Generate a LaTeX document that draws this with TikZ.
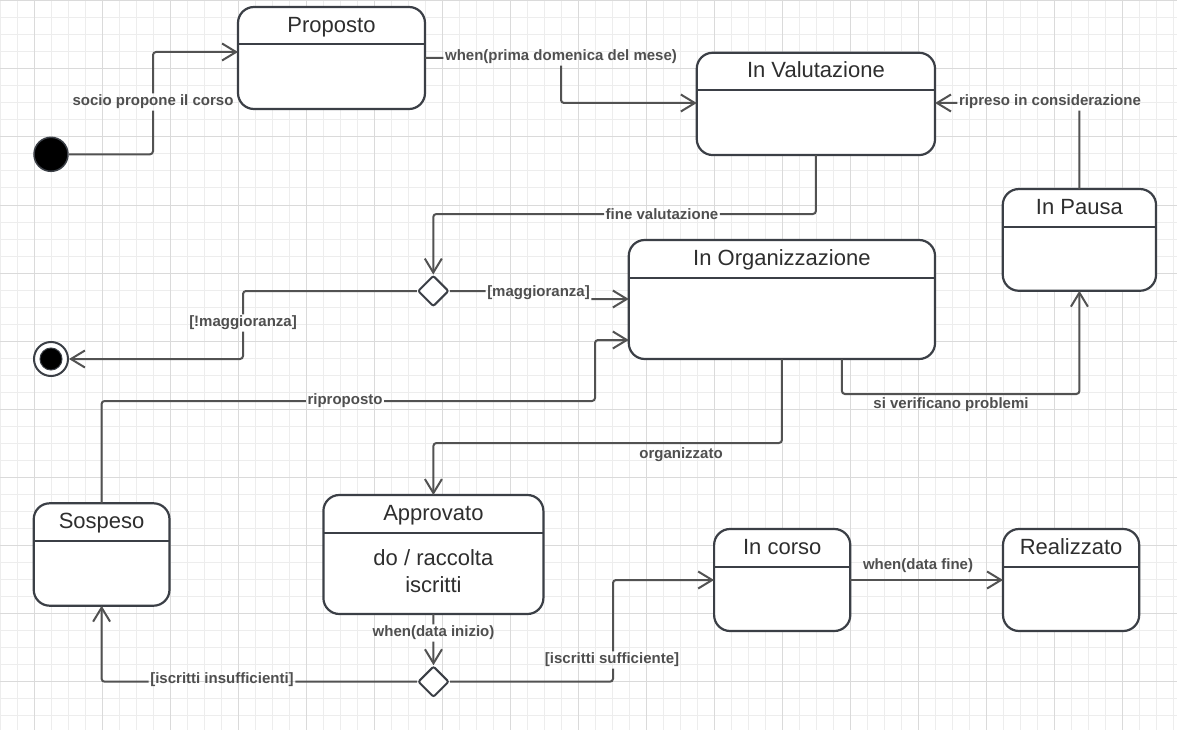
\documentclass[tikz,border=0pt]{standalone}
\usepackage{fontspec}
\setmainfont{Liberation Sans}
\usetikzlibrary{arrows.meta,shapes.geometric}
\definecolor{bord}{HTML}{3B3F46}
\definecolor{conncol}{HTML}{525252}
\definecolor{lblcol}{HTML}{4F4F4F}
\definecolor{ttlcol}{HTML}{2E2E2E}
\definecolor{gridminor}{HTML}{EDEDED}
\definecolor{gridmajor}{HTML}{DADADA}
\newcommand\lblhole[1]{\clip (-5,-5) rectangle (1182,735) (#1.north east) rectangle (#1.south west);}
\begin{document}
\begin{tikzpicture}[x=1pt,y=-1pt,
  statebox/.style={draw=bord, line width=2.2pt, fill=white, rounded corners=16pt, inner sep=0pt, outer sep=0pt},
  hdr/.style={draw=bord, line width=2pt},
  ttl/.style={font=\fontsize{22}{27}\selectfont, text=ttlcol, text height=16pt, text depth=4.6pt, inner sep=0pt},
  bodytxt/.style={font=\fontsize{22}{27}\selectfont, text=ttlcol, inner sep=0pt, align=center},
  lbl/.style={font=\fontsize{15}{17}\selectfont\bfseries, text=lblcol, inner sep=1.5pt},
  tr/.style={draw=conncol, line width=2pt, rounded corners=3pt, -{Straight Barb[length=14pt,width=17pt]}},
  dec/.style={diamond, draw=bord, line width=2pt, fill=white, minimum width=31pt, minimum height=31pt, inner sep=0pt, rounded corners=2pt},
  initst/.style={circle, fill=black, draw=bord, line width=1.5pt, minimum size=34pt, inner sep=0pt},
  finout/.style={circle, fill=white, draw=bord, line width=2pt, minimum size=34pt, inner sep=0pt},
  finin/.style={circle, fill=black, draw=bord, line width=1pt, minimum size=22pt, inner sep=0pt}
]
\useasboundingbox (0,0) rectangle (1177,730);
\fill[white] (0,0) rectangle (1177,730);
% grid
\foreach \gx in {0,17,...,1177} \draw[gridminor, line width=1pt] (\gx,0) -- (\gx,730);
\foreach \gy in {1,18,...,730} \draw[gridminor, line width=1pt] (0,\gy) -- (1177,\gy);
\foreach \gx in {34,102,...,1177} \draw[gridmajor, line width=1pt] (\gx,0) -- (\gx,730);
\foreach \gy in {1,69,...,730} \draw[gridmajor, line width=1pt] (0,\gy) -- (1177,\gy);

% states
\node[statebox, minimum width=187pt, minimum height=102pt] (prop) at (331.5,58) {};
\node[statebox, minimum width=238.3pt, minimum height=102.3pt] (val) at (815.9,103.9) {};
\node[statebox, minimum width=153.3pt, minimum height=101.7pt] (pausa) at (1079.4,239.9) {};
\node[statebox, minimum width=306.3pt, minimum height=119pt] (org) at (781.9,299.5) {};
\node[statebox, minimum width=135.8pt, minimum height=102.4pt] (sosp) at (101.6,554.5) {};
\node[statebox, minimum width=220pt, minimum height=119pt] (appr) at (433.4,554.5) {};
\node[statebox, minimum width=136.2pt, minimum height=102pt] (corso) at (782.2,580) {};
\node[statebox, minimum width=136.2pt, minimum height=102pt] (real) at (1071.1,580) {};

\foreach \s in {prop,val,pausa,org,sosp,appr,corso,real}
  \draw[hdr] ([yshift=-37.5pt]\s.north west) -- ([yshift=-37.5pt]\s.north east);

\node[ttl] (propT) at ([yshift=-19.5pt]prop.north) {Proposto};
\node[ttl] (valT) at ([yshift=-19.5pt]val.north) {In Valutazione};
\node[ttl] (pausaT) at ([yshift=-19.5pt]pausa.north) {In Pausa};
\node[ttl] (orgT) at ([yshift=-19.5pt]org.north) {In Organizzazione};
\node[ttl] (sospT) at ([yshift=-19.5pt]sosp.north) {Sospeso};
\node[ttl] (apprT) at ([yshift=-19.5pt]appr.north) {Approvato};
\node[ttl] (corsoT) at ([yshift=-19.5pt]corso.north) {In corso};
\node[ttl] (realT) at ([yshift=-19.5pt]real.north) {Realizzato};
\node[bodytxt] (apprB) at (433.4,571) {do / raccolta\\iscritti};

% pseudo states
\node[initst] (init) at (51,154.3) {};
\node[finout] (fin) at (51,359) {};
\node[finin] (finI) at (51,359) {};
\node[dec] (d1) at (433.3,291) {};
\node[dec] (d2) at (433.5,681.7) {};

% labels
\node[lbl] (lSocio) at (153,102) {socio propone il corso};
\node[lbl] (lPrima) at (561,57) {when(prima domenica del mese)};
\node[lbl] (lFine) at (662,214) {fine valutazione};
\node[lbl] (lMagg) at (538.5,293) {[maggioranza]};
\node[lbl] (lNotMagg) at (243,323) {[!maggioranza]};
\node[lbl] (lOrg) at (681,455) {organizzato};
\node[lbl] (lSiVer) at (951,405) {si verificano problemi};
\node[lbl] (lRipreso) at (1050,102) {ripreso in considerazione};
\node[lbl] (lRipro) at (345,401) {riproposto};
\node[lbl] (lWhenIn) at (433.5,633) {when(data inizio)};
\node[lbl] (lInsuf) at (222,680) {[iscritti insufficienti]};
\node[lbl] (lSuff) at (612,660) {[iscritti sufficiente]};
\node[lbl] (lDataFine) at (918,566) {when(data fine)};

% connectors
\begin{scope}[even odd rule]\lblhole{lSocio}
\draw[tr] (init) -- (153,154.3) -- (153,52) -- (prop.west |- 0,52);
\end{scope}
\begin{scope}[even odd rule]\lblhole{lPrima}
\draw[tr] (prop.east |- 0,58) -- (561,58) -- (561,103) -- (val.west |- 0,103);
\end{scope}
\begin{scope}[even odd rule]\lblhole{lFine}
\draw[tr] (val.south) -- (val.south |- 0,214) -- (d1.north |- 0,214) -- (d1.north);
\end{scope}
\begin{scope}[even odd rule]\lblhole{lMagg}
\draw[tr] (d1.east) -- (539,291) -- (539,299) -- (org.west |- 0,299);
\end{scope}
\begin{scope}[even odd rule]\lblhole{lNotMagg}
\draw[tr] (d1.west) -- (243,291) -- (243,359) -- (fin);
\end{scope}
\draw[tr] (org.south) -- (org.south |- 0,443) -- (appr.north |- 0,443) -- (appr.north);
\draw[tr] ([xshift=60pt]org.south) -- ([xshift=60pt]org.south |- 0,394) -- (pausa.south |- 0,394) -- (pausa.south);
\begin{scope}[even odd rule]\lblhole{lRipreso}
\draw[tr] (pausa.north) -- (pausa.north |- 0,103) -- (val.east |- 0,103);
\end{scope}
\begin{scope}[even odd rule]\lblhole{lRipro}
\draw[tr] (sosp.north) -- (sosp.north |- 0,401) -- (595,401) -- (595,340) -- (org.west |- 0,340);
\end{scope}
\begin{scope}[even odd rule]\lblhole{lWhenIn}
\draw[tr] (appr.south) -- (d2.north);
\end{scope}
\begin{scope}[even odd rule]\lblhole{lInsuf}
\draw[tr] (d2.west) -- (sosp.south |- d2.west) -- (sosp.south);
\end{scope}
\begin{scope}[even odd rule]\lblhole{lSuff}
\draw[tr] (d2.east) -- (613,681.7) -- (613,580) -- (corso.west);
\end{scope}
\draw[tr] (corso.east) -- (real.west);
\end{tikzpicture}
\end{document}
